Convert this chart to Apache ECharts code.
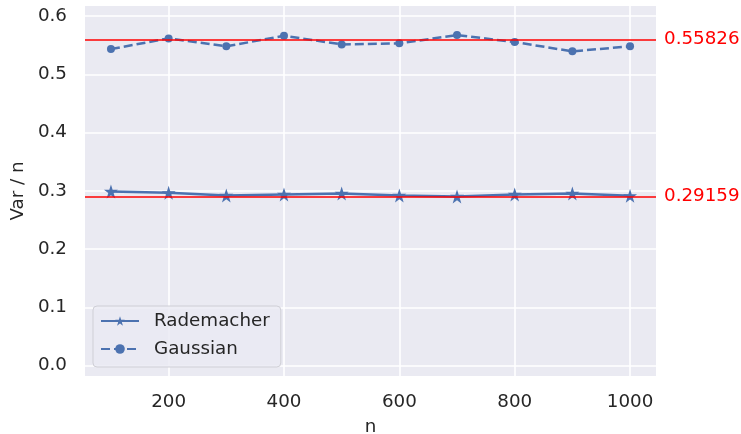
<!DOCTYPE html>
<html>
<head>
<meta charset="utf-8">
<script src="https://cdn.jsdelivr.net/npm/echarts@6/dist/echarts.min.js"></script>
<style>
html,body{margin:0;padding:0;background:#fff;}
#chart{width:741px;height:434px;}
</style>
</head>
<body>
<div id="chart"></div>
<script>
const nValues = [100, 200, 300, 400, 500, 600, 700, 800, 900, 1000];
const rademacher = [0.2990, 0.2966, 0.2921, 0.2938, 0.2955, 0.2921, 0.2904, 0.2938, 0.2955, 0.2914];
const gaussian = [0.5435, 0.5618, 0.5481, 0.5663, 0.5515, 0.5533, 0.5675, 0.5555, 0.5395, 0.5481];
const refValues = [0.55826, 0.29159];
const refLabels = ['0.55826', '0.29159'];
const xTicks = [200, 400, 600, 800, 1000];
const yTicks = [0.0, 0.1, 0.2, 0.3, 0.4, 0.5, 0.6];

const FONT = 'DejaVu Sans';
const FS = 18.3;
const TXT = '#262626';
const BLUE = '#4C72B0';
const STAR = 'path://M50,0 L61.23,34.55 L97.55,34.55 L68.16,55.9 L79.39,90.45 L50,69.1 L20.61,90.45 L31.84,55.9 L2.45,34.55 L38.77,34.55 Z';

const chart = echarts.init(document.getElementById('chart'), null, {renderer: 'canvas'});
chart.setOption({
  animation: false,
  textStyle: {fontFamily: FONT},
  grid: {left: 85, right: 85, top: 6, bottom: 58, show: true, backgroundColor: '#EAEAF2', borderWidth: 0,
    containLabel: false, outerBoundsMode: 'none'},
  xAxis: {
    type: 'value', min: 55, max: 1045,
    name: 'n', nameLocation: 'middle', nameGap: 42,
    nameTextStyle: {fontFamily: FONT, fontSize: FS, color: TXT},
    axisLine: {show: false},
    axisTick: {show: false, customValues: xTicks},
    axisLabel: {customValues: xTicks, fontFamily: FONT, fontSize: FS, color: TXT, margin: 17,
      formatter: v => String(v)},
    splitLine: {show: true, lineStyle: {color: '#ffffff', width: 1.6}}
  },
  yAxis: {
    type: 'value', min: -0.0179, max: 0.6174,
    name: 'Var / n', nameLocation: 'middle', nameGap: 54, nameRotate: 90,
    nameTextStyle: {fontFamily: FONT, fontSize: FS, color: TXT},
    axisLine: {show: false},
    axisTick: {show: false, customValues: yTicks},
    axisLabel: {customValues: yTicks, fontFamily: FONT, fontSize: FS, color: TXT, margin: 18,
      formatter: v => Number(v).toFixed(1)},
    splitLine: {show: true, lineStyle: {color: '#ffffff', width: 1.6}}
  },
  legend: {
    orient: 'vertical', left: 93, top: 306,
    padding: [6, 11, 9, 7], itemGap: 10, itemWidth: 38, itemHeight: 12,
    backgroundColor: 'rgba(234,234,242,0.8)', borderColor: '#cfcfd6', borderWidth: 1, borderRadius: 4,
    textStyle: {fontFamily: FONT, fontSize: FS, color: TXT, padding: [0, 0, 0, 10]},
    data: ['Rademacher', 'Gaussian']
  },
  series: [
    {
      name: 'Rademacher', type: 'line',
      data: nValues.map((n, i) => [n, rademacher[i]]),
      symbol: STAR, symbolSize: 14, showSymbol: true,
      lineStyle: {color: BLUE, width: 2.5, type: 'solid'},
      itemStyle: {color: BLUE},
      z: 3,
      markLine: {
        silent: true, symbol: ['none', 'none'], animation: false,
        lineStyle: {color: '#FF0000', width: 1.5, type: 'solid'},
        label: {show: true, position: 'end', distance: 8, color: '#FF0000', fontFamily: FONT, fontSize: FS,
          formatter: p => refLabels[p.dataIndex]},
        data: refValues.map(v => ({yAxis: v}))
      }
    },
    {
      name: 'Gaussian', type: 'line',
      data: nValues.map((n, i) => [n, gaussian[i]]),
      symbol: 'circle', symbolSize: 8, showSymbol: true,
      lineStyle: {color: BLUE, width: 2.5, type: [9, 4]},
      itemStyle: {color: BLUE},
      z: 3
    }
  ]
});
</script>
</body>
</html>
